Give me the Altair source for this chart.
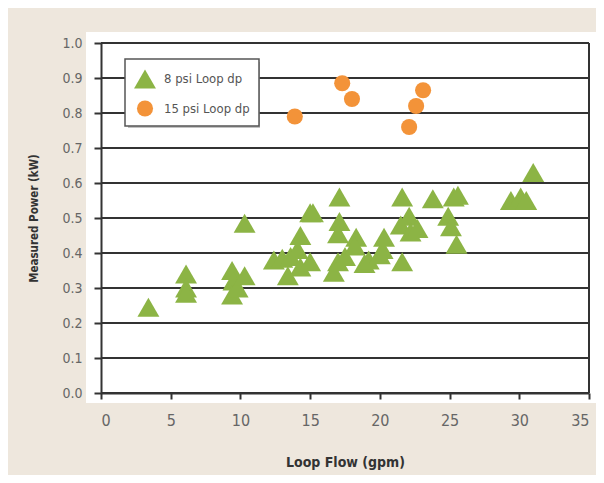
import altair as alt
import pandas as pd

# ---- data ----
series_names = ["8 psi Loop dp", "15 psi Loop dp"]

flow_8 = [3.4, 6.1, 6.1, 6.1, 9.4, 9.5, 9.4, 9.8, 10.3, 10.3,
          12.4, 13.0, 13.6, 13.4, 14.1, 14.3, 14.3, 15.0, 15.0, 15.2,
          16.7, 17.0, 17.1, 17.1, 17.0, 17.5, 18.3, 18.2, 18.9, 19.2,
          20.0, 20.2, 20.3, 21.6, 21.6, 21.5, 22.1, 22.2, 22.7, 23.8,
          25.3, 24.9, 25.1, 25.5, 29.4, 30.1, 30.5, 31.0, 25.6]
power_8 = [0.245, 0.34, 0.30, 0.285, 0.35, 0.32, 0.28, 0.30, 0.335, 0.485,
           0.38, 0.385, 0.39, 0.335, 0.41, 0.45, 0.36, 0.375, 0.515, 0.515,
           0.345, 0.375, 0.56, 0.49, 0.455, 0.39, 0.445, 0.42, 0.37, 0.38,
           0.395, 0.41, 0.445, 0.375, 0.56, 0.48, 0.505, 0.46, 0.47, 0.555,
           0.56, 0.505, 0.475, 0.425, 0.55, 0.56, 0.55, 0.63, 0.565]

flow_15 = [13.9, 17.3, 18.0, 22.1, 22.6, 23.1]
power_15 = [0.79, 0.885, 0.84, 0.76, 0.82, 0.865]

x_ticks = [0, 5, 10, 15, 20, 25, 30, 35]
y_ticks = [0.0, 0.1, 0.2, 0.3, 0.4, 0.5, 0.6, 0.7, 0.8, 0.9, 1.0]

df = pd.DataFrame({
    "flow": flow_8 + flow_15,
    "power": power_8 + power_15,
    "series": [series_names[0]] * len(flow_8) + [series_names[1]] * len(flow_15),
})
grid_df = pd.DataFrame({"power": y_ticks})

# ---- styling ----
W, H = 488, 350
FONT = "Liberation Sans Narrow, DejaVu Sans Condensed, sans-serif"
GREEN = "#8CB445"
ORANGE = "#F39339"
DARK = "#333333"
BG = "#EEE7DD"

y_scale = alt.Scale(domain=[0, 1], nice=False)
y_axis = alt.Axis(values=y_ticks, format=".1f", title="Measured Power (kW)",
                  grid=False, tickSize=7, labelFontSize=14, labelPadding=12,
                  titleFontSize=11.5, titleFontWeight="bold",
                  titlePadding=22, zindex=1, labelOverlap=False)
x_scale = alt.Scale(domain=[0, 35], nice=False)
x_axis = alt.Axis(values=x_ticks, title="Loop Flow (gpm)", grid=False,
                  tickSize=6, labelFontSize=16, labelPadding=13,
                  titleFontSize=14, titleFontWeight="bold",
                  titlePadding=27, zindex=1, labelOverlap=False)

one = alt.Data(values=[{}])

plot_bg = alt.Chart(one).mark_rect(color="white").encode(
    x=alt.value(-15), x2=alt.value(W + 8), y=alt.value(-11), y2=alt.value(H + 10)
)

grid = alt.Chart(grid_df).mark_rule(color=DARK, strokeWidth=2).encode(
    y=alt.Y("power:Q", scale=y_scale, axis=y_axis)
)

right_border = alt.Chart(one).mark_rule(color=DARK, strokeWidth=2).encode(
    x=alt.value(W), y=alt.value(0), y2=alt.value(H)
)

legend_shadow = alt.Chart(one).mark_rect(color="#8f8f8f", opacity=0.55).encode(
    x=alt.value(27), x2=alt.value(159), y=alt.value(19), y2=alt.value(85)
)

points = alt.Chart(df).mark_point(filled=True, opacity=1, strokeWidth=0).encode(
    x=alt.X("flow:Q", scale=x_scale, axis=x_axis),
    y=alt.Y("power:Q", scale=y_scale, axis=y_axis),
    color=alt.Color("series:N", scale=alt.Scale(domain=series_names, range=[GREEN, ORANGE]),
                    legend=alt.Legend(title=None)),
    shape=alt.Shape("series:N", scale=alt.Scale(domain=series_names, range=["triangle-up", "circle"]),
                    legend=alt.Legend(title=None)),
    size=alt.Size("series:N", scale=alt.Scale(domain=series_names, range=[480, 260]), legend=None),
)

chart = alt.layer(plot_bg, grid, right_border, legend_shadow, points).properties(
    width=W, height=H, background=BG,
    padding={"left": 93, "top": 35, "right": 7, "bottom": 82},
    autosize=alt.AutoSizeParams(type="none"),
).configure_view(
    strokeWidth=0, fill="white"
).configure_axis(
    labelFont=FONT, titleFont=FONT, labelColor="#666666", titleColor="#333333",
    tickColor=DARK, tickWidth=2, domainColor=DARK, domainWidth=2,
).configure_legend(
    orient="none", legendX=24, legendY=16, padding=9, fillColor="white",
    strokeColor="#555555", strokeWidth=1.5, labelFont=FONT, labelFontSize=13,
    labelColor="#555555", symbolSize=220, symbolStrokeWidth=0, symbolOpacity=1,
    rowPadding=11, labelOffset=8, cornerRadius=0,
)

chart.save("out.html", embed_options={"renderer": "svg", "actions": False})
